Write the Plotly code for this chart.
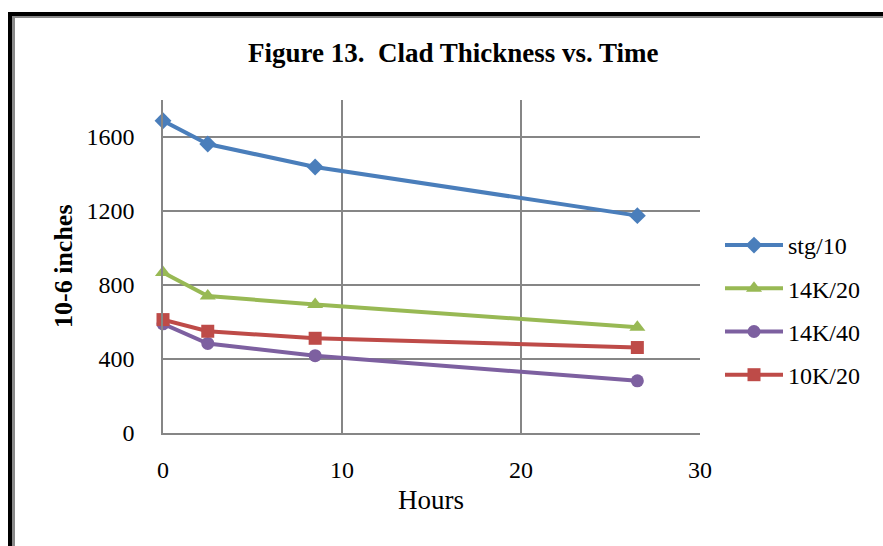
import plotly.graph_objects as go

# Clad thickness measurements (10^-6 inches) at each sampling time (hours)
hours = [0, 2.5, 8.5, 26.5]
stg_10 = [1688, 1562, 1438, 1175]
k14_20 = [868, 740, 695, 572]
k14_40 = [590, 484, 418, 282]
k10_20 = [613, 550, 512, 462]

series = [
    ("stg/10", stg_10, "#4A7EBB", "diamond", 13),
    ("14K/20", k14_20, "#98B954", "triangle-up", 14),
    ("14K/40", k14_40, "#7D60A0", "circle", 13),
    ("10K/20", k10_20, "#BE4B48", "square", 13),
]

x_ticks = [0, 10, 20, 30]
y_ticks = [0, 400, 800, 1200, 1600]

W, H = 883, 546
L, R, T, B = 163, 700, 100, 433  # plot area in pixels

fig = go.Figure()
for i, (name, vals, color, sym, size) in enumerate(series):
    fig.add_trace(go.Scatter(
        x=hours, y=vals, name=name, mode="lines+markers",
        legendgroup=f"g{i}", cliponaxis=False,
        line=dict(color=color, width=4),
        marker=dict(symbol=sym, size=size, color=color),
    ))


def px(x):
    return (x - L) / (R - L)


def py(y):
    return (B - y) / (B - T)


shapes = [
    # outer chart frame: black band with a grey inner edge
    dict(type="rect", xref="paper", yref="paper", x0=px(8), x1=px(12), y0=py(W), y1=py(12),
         fillcolor="black", line=dict(width=0), layer="above"),
    dict(type="rect", xref="paper", yref="paper", x0=px(8), x1=px(W + 5), y0=py(16), y1=py(12),
         fillcolor="black", line=dict(width=0), layer="above"),
    dict(type="rect", xref="paper", yref="paper", x0=px(12), x1=px(15), y0=py(W), y1=py(16),
         fillcolor="#8a8a8a", line=dict(width=0), layer="above"),
    dict(type="rect", xref="paper", yref="paper", x0=px(12), x1=px(W + 5), y0=py(18), y1=py(16),
         fillcolor="#8a8a8a", line=dict(width=0), layer="above"),
]

font_serif = "Liberation Serif, Times New Roman, serif"

fig.update_layout(
    width=W, height=H,
    margin=dict(l=L, r=W - R, t=T, b=H - B),
    paper_bgcolor="white", plot_bgcolor="white",
    font=dict(family=font_serif, size=24, color="black"),
    showlegend=True,
    legend=dict(
        x=px(720), y=py(310), xanchor="left", yanchor="middle",
        font=dict(family=font_serif, size=24, color="black"),
        tracegroupgap=9, itemwidth=58,
        bgcolor="rgba(0,0,0,0)",
    ),
    xaxis=dict(
        range=[0, 30], tickvals=x_ticks, showgrid=True, gridcolor="#868686", gridwidth=1.5,
        zeroline=False, showline=True, linecolor="#868686", linewidth=1.5,
        ticks="", ticklabelstandoff=14, tickfont=dict(size=24),
    ),
    yaxis=dict(
        range=[0, 1800], tickvals=y_ticks, showgrid=True, gridcolor="#868686", gridwidth=1.5,
        zeroline=False, showline=True, linecolor="#868686", linewidth=1.5,
        ticks="", ticklabelstandoff=22, tickfont=dict(size=24),
    ),
    shapes=shapes,
    annotations=[
        dict(text="<b>Figure 13.  Clad Thickness vs. Time</b>", xref="paper", yref="paper",
             x=px(453), y=py(53), xanchor="center", yanchor="middle", showarrow=False,
             font=dict(family=font_serif, size=27)),
        dict(text="<b>10-6 inches</b>", xref="paper", yref="paper",
             x=px(63), y=py(266), xanchor="center", yanchor="middle", showarrow=False,
             textangle=-90, font=dict(family=font_serif, size=26)),
        dict(text="Hours", xref="paper", yref="paper",
             x=px(431), y=py(500), xanchor="center", yanchor="middle", showarrow=False,
             font=dict(family=font_serif, size=27)),
    ],
)

fig.write_html("out.html")
